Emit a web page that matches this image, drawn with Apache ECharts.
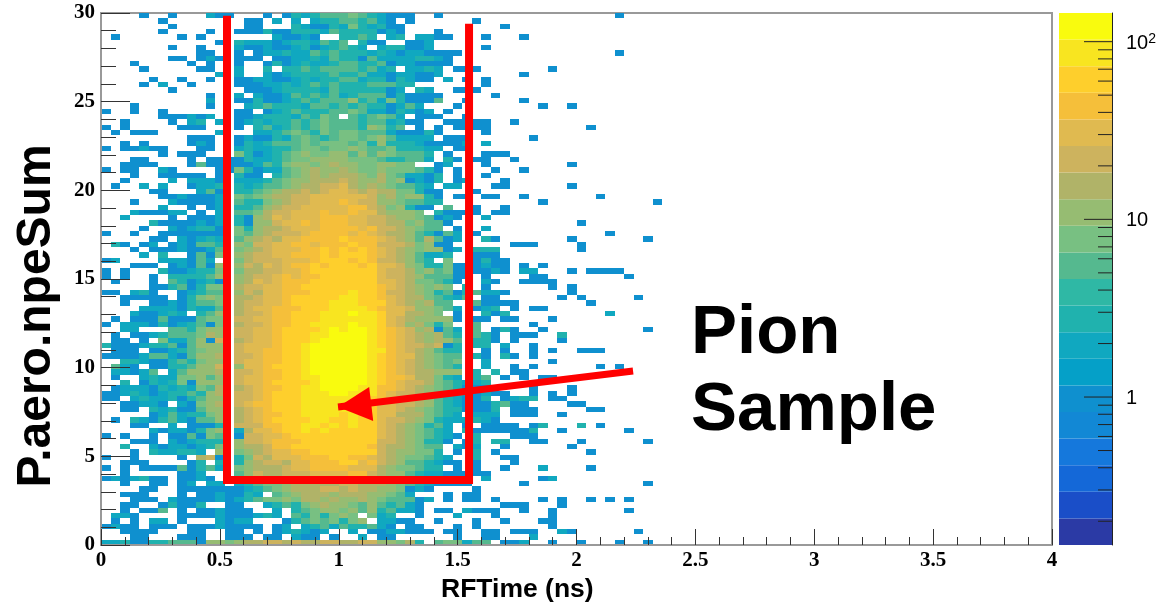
<!DOCTYPE html>
<html><head><meta charset="utf-8">
<script src="https://cdn.jsdelivr.net/npm/echarts@6/dist/echarts.min.js"></script>
<style>html,body{margin:0;padding:0;background:#fff}#c{width:1160px;height:608px}</style>
</head><body><div id="c"></div>
<script>
// Letter = estimated bin content read from the colour of each cell; '.' = empty bin.
const countOfLetter = {a:1,b:2,c:3,d:5,e:7,f:10,g:14,h:20,i:28,j:40,k:56,l:64,m:80,n:120};
// One string per npe bin, top row (30) first; columns run from RFTime 0 upward in 0.04 ns bins.
const rows = [
"....a..a...baa ...a.acbcdddedc baaa..a... ...............a",
"......a....... .aa.b.b.bccddcd ba.a...... a",
".......a...... .aa...cbaacbecb caa....... ...a",
"......a....a.. aaacaacccbdcccc aba...a...",
".a......a.a... ....baaba..ccdc .bc.bbaa.. .a...a",
"............a. cbbbabccbdcd.ca a..aab....",
".......a..a... baabaabcabcdcb. bccaab.... .a",
"..........aa.. a.abbcbbdcdcccb cbabbaaaa. ...............a",
".......aa.aba. aaa.aabbcbdccad bbbbccba..",
"...a.....a.a.. a..acabcbbcddcc dabbaaaa..",
"....a.....aa.. b..c.ccdcddddcd bc.bbcb.aa a.......a",
"............b. b..babccccdccdb babbaab... .....a",
".....a..a..a.. aabbaabcbccddbc cacbaa.b.a .a",
"....a.b..a.... aaabbcbcdcdcccd ddcc...... .a",
".......a...... .aaabccccbdcccc cab.cb..aa a",
"...........a.. b.baabdcdcdbcdd dacaaaa... ..a",
"...........b.. aacaabcdcdddfcd becaaad..a .....a",
"...a.......a.. .bcdcccbddcdcdc cabdb...a. .......a..a",
"a..a..a....... aa.abcdcccddedb bacbab.a..",
"......aaabab.. aabcccbdced.dcd edb.aaa..a",
"..a....a.bc.b. abcbccdcdedddcd dbcaa..aaa aa..a",
"a.a.....aaa... a.cdbcdcdedddcf ecd.a.a.aa aa..........a",
".a.aaa......b. ..bbcdedcedeedd dbaaaca... .a",
".........aaa.. abaacbdedcdeede fdbbbb.aaa ......a",
"..a.a....aba.. acbcdddedeeedec fcccbaaaab .b",
"a.aabaa...aa.. bcbbccdeedeefed decccbb.aa",
"......a.aaa... ecabcdefeeffdfd fedddc.a.. .aaa",
"...aa....a.aaa acbbcdeeffffeee dccddb.ca. aa..a",
"..aaaa...adaaa aabdceffefgffee ffee..ab.. .a........a",
"a.aa..ba....aa ecabbdefgffgfee feeedca.a. ..a..a",
"...a..aaaaa.a. caa.cdefgfgggfe gedbbac.a. .a",
"..a....b.bbba. bbbcdeffggghgff gefabac.ab ...a",
".a..b.b..abbc. cbcddefgghhigfg feddcb.bb. ..aa......a",
".....aa...bda. ccdefgghghiihgh ggeecaa... a",
"......aabaaab. edefgghhiiiiiih fgeffca.aa .aa..a.......a",
"...a...baaaab. dccefghhiiijihh ffeddcc... .......a...........a",
"......b..a.ab. ccdfghhiiiiijjh gefcaa.d.. a..a",
"...baaabb.a.b. ddeghhiiijiijii gfffe.caaa a.aa",
"..b....a.aaab. cafgihiiijjjiih hgffedaba. .b",
".....caaaabab. caffhiijijjjiih hggefdda.. ...........a",
"....a..babcca. ecfgghiiijjjjij hhgfedd.a. .b",
"a..a..aaaaaaa. edfghhhijjjjiji hggfdcadb. a.............a",
".....aa.babcb. dfghgiijjjjkjjj ihgfdgdab. .ca.......a.......a",
".ca.ab.abaddc. fehhiijjijjjkjj hhhgefaa.. ....aaa....a",
"...a.aaabaabd. efghiiijjkjkjkj ihgfeffab. ccc........a",
"....b.c..adae. fghhiijjjkjkkkj ihgfdbbc.. aaa",
"ab....bbbadb.. eghhhiiijkkkjkj hhgfdc.e.. acaa",
"...aaa.abadaf. fhgihijjkjkkkjk iihfecceaa abaa.a.a",
"a.a...caabcce. egghhiijkkkkkkk ihhgefdeaa aaba.bb...a.aaaa",
"a.a..a.ccccdf. fghhijijjkklkkk ihhgfdddaa .a....aa........a",
".a...a.dcabca. fgihijjjkkllkll iihgeedca. .ba..aaaa",
".....aacdacee. ghhiijjkkllllkl jihgfefe.c .a......a.a",
"aa.bca..abcdd. fhgiijjjkkllmll jhhgfecdac dbba......a",
"..aaaaa.acefe. gghiijkkkklmmll jihggedcbd .aa......a.a.....a",
"..a..aabacdde. ghhiijkkklmmmll kihgfgdd.. daaaa.......a",
"....bbbbacbbd. ghiijjjkklmmmml jiihffedb. abc.a.aa",
"...baabcb.cdf. ghhijjkkkmmmnmm kiiggfe.a. .cac..........b",
".a.aaadaaadee. hhiijjkkkmmmmmm kihgffffa. aa.aa...a",
"a.bbbacabcdae. ghhijjkkmmmmnmm kihfgece.. d.....a",
"..bb...ddceff. hhiijkkklmnmnnm kjihfgadb. d.aca..a..........a",
".a.aabcdddegf. hhiijkkkmmnnnnm ljihgfgdc. dca.aaa..c",
".aa.a.ebbdfah. ghiijkklmnnnnnm ljihgfgfd. cca.a....a",
"caaabccdadfff. hiiijkkmnnnnnnm ljihhghac. cc.b..a",
".aaa.aabcdeff. hiijjkkmnnnnnnm mjihgfdcc. .a.a..a.a..aaa",
"aaaabddbadffg. hhijjkkmnnnnnnm ljiigfedd. ca.ca.a",
"..ccbaacdceff. hiijjkkmnnnnnnm ljihgfede. .b......a",
".dba.aaccdffh. fiijkkkmnnnnnnm kjihgfedc. .b..a.a......a.a",
".bbabd.bdfffg. hhijjkkmnnnnnnm kjihggfff. c.c.aa",
".a..bcbbeefdf. hiijjkkmmnnnnnm kjjiggecb. cd.a.a.aa",
"..c.acbceafff. hiijkkllmnnnnnm kjihhgedcb bc",
".abbbacbcbedg. ghijjklmmnnnnmm jjihgfedca aa....a...a",
"aabcbabccdcfg. hhijkkkmmmnnmmm jihhgfedcb abaa..a.a.a",
"aa.bcbbcacdff. hhijkklmmmmmmml jiihgfdcba ac.abcc.aa",
"..aabba.baefg. hijjkklmmmmmmml iihhgfdcba aacdaa....aa",
"..aa.cbcaadff. ghijkklmmmmmlll iihgfedcca aac.aaa.....aa",
".....abdbccef. ghijjkkmmmmlmll iigggedcb. bbb.aaa..a",
".a.cbacdbaddf. ghijkkkkmmllmlk ihhgfecbbb cba",
"...aa..b.aaac. hhhjjkkmmlmlmll ihgfecdb.a .aaaa.ac...c.a",
".....babbacef. bgiijkkmlmlllkk ihgfedcb.c aaaaaac..a......a",
"a.a..a.aadaed. ahhiijklllkkkkk ihgfedcba. c...aaa",
"...aaa.babccc. fhhijjjkllkkkkk hhgfecca.a c.cc..aa...a......a",
"..c..babbabce. fgghjjkkkllkkkj hggfedd.ba b..a......a",
"...a.cbbccb.f. efghiijjkkkkkkk hgffeec.a. c.a.........a",
"a..a....a.gha. cehgiiijjjkkjji hgfeedcb.. c..aa",
"..aaa....ac.c. cfghhgiijjjkkij hgfddcbaa. a...a",
"a.a.aaaadacdb. efggghiijjjjiii gfeedcc.a. a..a...b....a",
"..a.....aab... dfhgghhhiiiijjh gffdcbbaaa aa",
"ababcaa.aaba.a cdegfgfghhhhhgg gffedccbaa .b.....ab",
"..a..aa.ab.bb. bcdeefggggghhgg gfedcbaaaa .....a............a",
"....aa..aaaaaa abcdefggghhghgg ffeaba.... a",
"..aaa...a.aaba acb.defgggfgggf fedb...a.a a",
"...aaa.baaaaba bcdeefeggfgffgf edddab.a.a a.a....a.a..a.a.a",
"..aa..acaac..a a..bcdcefgffedf dcdba..... ...aaa...a",
"..a.aad.a.aaba aa..b.cdeffefdf cdbba.aa.b aaa..a..a.......a",
".bba....aaaaba aabcb.dcecefe.e bc..a...b. ..a.....a",
".a.a.bb.a...ba bb...acdedecef. bbaa..a... a..a...aa",
"abaa.aaa.aaaba aaa.ab.bcdbdccd ba.aa...a. a.......a",
"..aaaa...aa..a a.a.abcbab..b.a abbaaa.aa. .aa.aaa..ba......a",
"...aa...aaa..a aa.aa.baa.a..b. aa......a. .aa...b",
"bbcaaccdddaffe fgghhghgghhgghh ffegc.deeb dd.aab..a..a...a..a"
];
const xLabels = [0,0.5,1,1.5,2,2.5,3,3.5,4];
const yLabels = [0,5,10,15,20,25,30];
const binX = 0.04, binY = 0.3, xMax = 4, yMax = 30;
const zMin = 0.147, zMax = 145;
const palette = ["#2b3aa5","#1a4ec8","#1468d8","#1578dc","#1288d5","#0f90cf","#05a0c8","#10a8c0","#20b2ae","#2fb8a5",
                 "#55b98f","#78c082","#96bc72","#b0b368","#cdb35e","#e0ba50","#f5bf3a","#fecf2c","#f8e520","#f9fb0e"];
const zMajor = [1,10,100];
const zMinor = [0.2,0.3,0.4,0.5,0.6,0.7,0.8,0.9,2,3,4,5,6,7,8,9,20,30,40,50,60,70,80,90];
const cutX = [0.53,0.53,1.548,1.548];
const cutY = [29.85,3.67,3.67,29.4];
const arrowX = [2.238,0.997], arrowY = [9.81,7.78];
const headX = [0.997,1.128,1.145], headY = [7.78,8.91,6.99];

const cells = [];
rows.forEach((s,r)=>{
  s.replace(/ /g,'').split('').forEach((ch,c)=>{
    if(ch!=='.') cells.push([c*binX, yMax-(r+1)*binY, countOfLetter[ch]]);
  });
});
const bandOf = v => Math.max(0,Math.min(19,Math.floor(Math.log(v/zMin)/Math.log(zMax/zMin)*20)));
const bands = palette.map((col,i)=>[zMin*Math.pow(zMax/zMin,i/20), zMin*Math.pow(zMax/zMin,(i+1)/20), col]);
const red = '#ff0000';
const serif = {fontFamily:'"Liberation Serif"',fontWeight:'bold',fontSize:21,color:'#000'};

const chart = echarts.init(document.getElementById('c'),null,{renderer:'canvas'});
chart.setOption({
  animation:false, backgroundColor:'#fff',
  grid:[
    {left:101,top:13,width:951,height:532,show:true,borderColor:'#999',borderWidth:2,backgroundColor:'#fff'},
    {left:1059,top:13,width:53,height:532,show:false}
  ],
  xAxis:[
    {type:'value',min:0,max:xMax,interval:0.5,z:5,
     axisLine:{show:true,lineStyle:{color:'#999',width:2}},
     axisTick:{show:true,inside:true,length:16,lineStyle:{color:'#333',width:1}},
     minorTick:{show:true,splitNumber:5,length:8,lineStyle:{color:'#333',width:1}},
     splitLine:{show:false},
     axisLabel:{...serif,margin:5,formatter:v=>String(v),showMinLabel:true,showMaxLabel:true}},
    {gridIndex:1,type:'value',min:0,max:1,show:false}
  ],
  yAxis:[
    {type:'value',min:0,max:yMax,interval:5,z:5,
     axisLine:{show:true,lineStyle:{color:'#999',width:2}},
     axisTick:{show:true,inside:true,length:29,lineStyle:{color:'#333',width:1}},
     minorTick:{show:true,splitNumber:5,length:15,lineStyle:{color:'#333',width:1}},
     splitLine:{show:false},
     axisLabel:{...serif,margin:6,padding:[8,0,0,0],formatter:v=>String(v)}},
    {gridIndex:1,type:'log',min:zMin,max:zMax,position:'right',z:5,
     axisLine:{show:true,onZero:false,lineStyle:{color:'#222',width:1}},
     axisTick:{show:false},minorTick:{show:false},splitLine:{show:false},minorSplitLine:{show:false},
     axisLabel:{show:true,margin:14,customValues:zMajor,padding:[3,0,0,0],fontFamily:'"Liberation Sans"',fontSize:20,color:'#000',
       formatter:v=>{const n=Math.round(v);return n===100?'{b|10}{s|2}':String(n);},
       rich:{b:{fontFamily:'"Liberation Sans"',fontSize:20,color:'#000'},
             s:{fontFamily:'"Liberation Sans"',fontSize:14,color:'#000',verticalAlign:'top',padding:[0,0,8,0]}}}}
  ],
  series:[
    {type:'custom',coordinateSystem:'cartesian2d',data:cells,z:2,silent:true,
     renderItem:(p,api)=>{
       const x=api.value(0),y=api.value(1),v=api.value(2);
       const a=api.coord([x,y+binY]),b=api.coord([x+binX,y]);
       const l=Math.round(a[0]),t=Math.round(a[1]),r=Math.round(b[0]),d=Math.round(b[1]);
       return {type:'rect',shape:{x:l,y:t,width:r-l,height:d-t},style:{fill:palette[bandOf(v)]}};
     }},
    {type:'custom',xAxisIndex:1,yAxisIndex:1,coordinateSystem:'cartesian2d',data:bands.map((b,i)=>[b[0],b[1],i]),z:2,silent:true,
     renderItem:(p,api)=>{
       const a=api.coord([0,api.value(1)]),b=api.coord([1,api.value(0)]);
       return {type:'rect',shape:{x:a[0],y:a[1],width:b[0]-a[0],height:b[1]-a[1]},style:{fill:palette[api.value(2)]}};
     },encode:{x:-1,y:0}},
    {type:'custom',xAxisIndex:1,yAxisIndex:1,coordinateSystem:'cartesian2d',
     data:zMajor.map(v=>[v,28]).concat(zMinor.map(v=>[v,14])),z:3,silent:true,
     renderItem:(p,api)=>{
       const a=api.coord([1,api.value(0)]);
       return {type:'line',shape:{x1:a[0]-api.value(1),y1:a[1],x2:a[0],y2:a[1]},style:{stroke:'#222',lineWidth:1}};
     },encode:{x:-1,y:0}},
    {type:'custom',coordinateSystem:'cartesian2d',data:[[0,0]],z:20,silent:true,clip:false,
     renderItem:(p,api)=>{
       const pts=cutX.map((x,i)=>api.coord([x,cutY[i]]));
       const arr=arrowX.map((x,i)=>api.coord([x,arrowY[i]]));
       const head=headX.map((x,i)=>api.coord([x,headY[i]]));
       return {type:'group',children:[
         {type:'polyline',shape:{points:pts},style:{stroke:red,lineWidth:8,fill:null,lineJoin:'miter',lineCap:'butt'}},
         {type:'polyline',shape:{points:arr},style:{stroke:red,lineWidth:7,fill:null}},
         {type:'polygon',shape:{points:head},style:{fill:red}}
       ]};
     }}
  ],
  graphic:[
    {type:'text',z:30,left:441,top:576,style:{text:'RFTime (ns)',fontFamily:'"Liberation Sans"',fontWeight:'bold',fontSize:26.5,fill:'#000'}},
    {type:'text',z:30,x:37,y:316,rotation:Math.PI/2,style:{text:'P.aero.npeSum',align:'center',verticalAlign:'middle',fontFamily:'"Liberation Sans"',fontWeight:'bold',fontSize:48,fill:'#000'}},
    {type:'text',z:30,left:691,top:299,style:{text:'Pion',fontFamily:'"Liberation Sans"',fontWeight:'bold',fontSize:69,fill:'#000'}},
    {type:'text',z:30,left:691,top:376,style:{text:'Sample',fontFamily:'"Liberation Sans"',fontWeight:'bold',fontSize:69,fill:'#000'}}
  ]
});
</script></body></html>
